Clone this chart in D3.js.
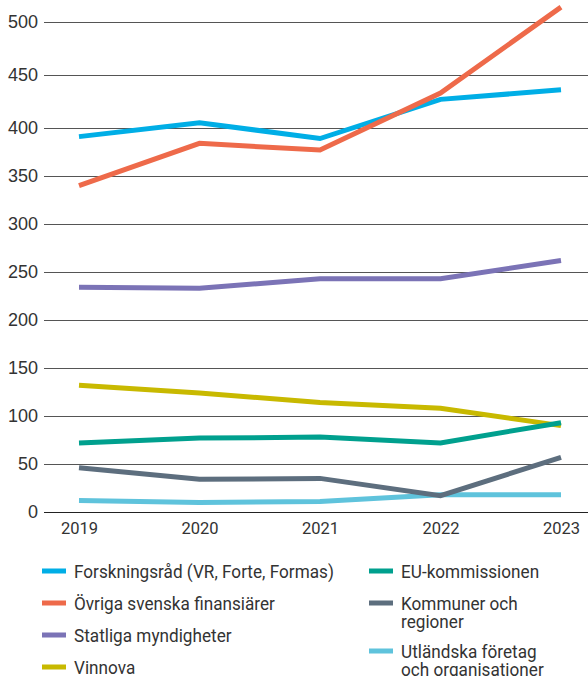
<!DOCTYPE html>
<html>
<head>
<meta charset="utf-8">
<script src="https://cdn.jsdelivr.net/npm/d3@7/dist/d3.min.js"></script>
<style>
  html, body { margin: 0; padding: 0; background: #fff; }
  svg { display: block; }
</style>
</head>
<body>
<svg id="chart" width="588" height="676"></svg>
<script>
// ---- data ----
const years = ["2019", "2020", "2021", "2022", "2023"];
const yTicks = [0, 50, 100, 150, 200, 250, 300, 350, 400, 450, 500];

const seriesNames = [
  "Forskningsråd (VR, Forte, Formas)",
  "Övriga svenska finansiärer",
  "Statliga myndigheter",
  "Vinnova",
  "EU-kommissionen",
  "Kommuner och regioner",
  "Utländska företag och organisationer"
];
const forskningsrad = [391, 405, 389, 427, 436];
const ovriga        = [340, 384, 377, 433, 514];
const statliga      = [234, 233, 243, 243, 262];
const vinnova       = [132, 124, 114, 108, 90];
const euKommission  = [72, 77, 78, 72, 93];
const kommuner      = [46, 34, 35, 17, 57];
const utlandska     = [12, 10, 11, 18, 18];

const seriesValues = [forskningsrad, ovriga, statliga, vinnova, euKommission, kommuner, utlandska];
const colors = ["#00aee6", "#ee6a4a", "#7b73b6", "#c8b900", "#00a08e", "#5d6e7e", "#5fc3dc"];

// legend layout labels (wrapped lines)
const legendLines = [
  ["Forskningsråd (VR, Forte, Formas)"],
  ["Övriga svenska finansiärer"],
  ["Statliga myndigheter"],
  ["Vinnova"],
  ["EU-kommissionen"],
  ["Kommuner och", "regioner"],
  ["Utländska företag", "och organisationer"]
];

// ---- drawing ----
const svg = d3.select("#chart");

const x = d3.scalePoint().domain(years).range([79, 561]);
const y = d3.scaleLinear().domain([0, 400, 500]).range([512, 128, 22]);

// gridlines + y labels
const yAxis = d3.axisLeft(y)
  .tickValues(yTicks)
  .tickSize(-(588 - 44))
  .tickPadding(6)
  .tickFormat(d3.format("d"));

const gy = svg.append("g").attr("transform", "translate(44,0)").call(yAxis);
gy.select(".domain").remove();
gy.selectAll(".tick line")
  .attr("stroke", d => d === 0 ? "#222" : "#555")
  .attr("stroke-width", 1.2);
gy.selectAll(".tick text")
  .attr("fill", "#333")
  .style("font-family", "'Liberation Sans', Arial, sans-serif")
  .style("font-size", "18px");

// x axis labels
const xAxis = d3.axisBottom(x).tickSize(0).tickPadding(10);
const gx = svg.append("g").attr("transform", "translate(0,512)").call(xAxis);
gx.select(".domain").remove();
gx.selectAll(".tick text")
  .attr("fill", "#333")
  .style("font-family", "Roboto, 'Open Sans', sans-serif")
  .style("font-size", "16.5px");

// lines
const line = d3.line()
  .x((d, i) => x(years[i]))
  .y(d => y(d));

const drawOrder = [6, 0, 1, 2, 3, 4, 5];
svg.append("g")
  .selectAll("path")
  .data(drawOrder)
  .join("path")
  .attr("d", i => line(seriesValues[i]))
  .attr("fill", "none")
  .attr("stroke", i => colors[i])
  .attr("stroke-width", 5)
  .attr("stroke-linejoin", "miter")
  .attr("stroke-linecap", "butt");

// legend
const legendPos = [
  {col: 0, y: 571}, {col: 0, y: 603}, {col: 0, y: 635}, {col: 0, y: 667},
  {col: 1, y: 571}, {col: 1, y: 603}, {col: 1, y: 651}
];
const colX = [42, 369];
const lg = svg.append("g");
const texts = [];
legendPos.forEach((p, i) => {
  lg.append("rect")
    .attr("x", colX[p.col])
    .attr("y", p.y - 2.5)
    .attr("width", 24)
    .attr("height", 5)
    .attr("fill", colors[i]);
  legendLines[i].forEach((t, j) => {
    const tx = lg.append("text")
      .attr("fill", "#333")
      .style("font-family", "Roboto, 'Open Sans', sans-serif")
      .style("font-size", "17.5px")
      .text(t);
    texts.push({node: tx, x: colX[p.col] + 32, y: p.y + 6.5 + j * 18});
  });
});
// fit horizontal proportion to the reference's narrow typeface
const refW = texts[0].node.node().getComputedTextLength();
const sx = Math.min(1, 260 / refW);
texts.forEach(t => t.node.attr("transform", `translate(${t.x},${t.y}) scale(${sx},1)`));
</script>
</body>
</html>
